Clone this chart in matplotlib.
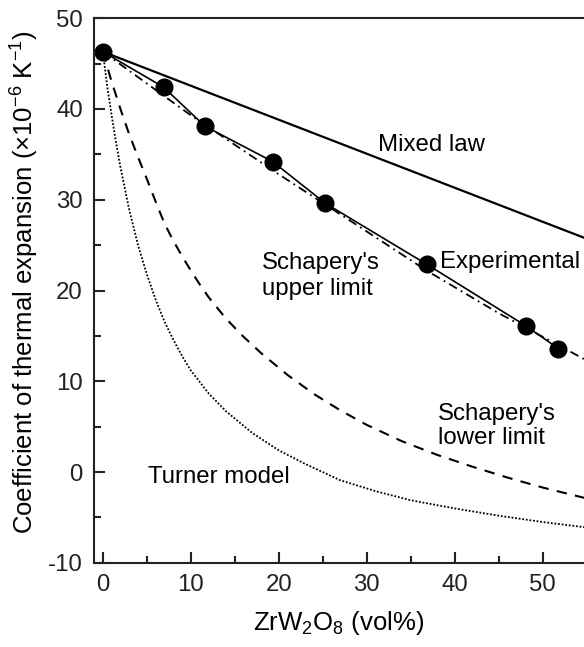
import matplotlib
matplotlib.use('Agg')
from matplotlib import pyplot as plt
from matplotlib.ticker import MultipleLocator

plt.rcParams['font.family'] = ['Liberation Sans', 'DejaVu Sans']
plt.rcParams['mathtext.fontset'] = 'custom'
plt.rcParams['mathtext.rm'] = 'Liberation Sans'
plt.rcParams['mathtext.it'] = 'Liberation Sans:italic'
plt.rcParams['axes.unicode_minus'] = False

# experimental data (vol% ZrW2O8, CTE x1e-6 /K)
exp_x = [0, 6.9, 11.6, 19.3, 25.3, 36.8, 48.1, 51.8]
exp_y = [46.3, 42.4, 38.1, 34.2, 29.6, 22.9, 16.1, 13.6]

# models
mixed_x = [0, 55]
mixed_y = [46.3, 25.7]

upper_x = [0, 10, 20, 30, 36.8, 45, 55]
upper_y = [46.3, 39.3, 32.8, 26.5, 22.2, 17.5, 12.3]

lower_x = [0, 1, 2, 3, 4, 5, 6, 7, 8, 9, 10, 11, 12, 14, 16, 18, 21, 24,
           27, 30, 34, 38, 42, 46, 50, 55]
lower_y = [46.3, 43.0, 40.0, 37.2, 34.7, 32.3, 29.8, 27.4, 25.5, 23.8, 22.2,
           20.7, 19.3, 16.9, 14.9, 13.1, 10.7, 8.6, 6.8, 5.2, 3.4, 1.9, 0.6,
           -0.6, -1.7, -2.9]

turner_x = [0, 0.5, 1, 1.5, 2, 3, 4, 5, 6, 7, 8, 9, 10, 12, 14, 17, 20, 23,
            27, 31, 35, 40, 45, 50, 55]
turner_y = [46.3, 42.5, 39.3, 36.3, 33.6, 28.9, 25.0, 21.8, 19.0, 16.6, 14.6,
            12.8, 11.2, 8.7, 6.7, 4.3, 2.4, 0.9, -0.9, -2.1, -3.1, -4.0, -4.8,
            -5.5, -6.1]

fig = plt.figure(figsize=(5.84, 6.47), dpi=100)
ax = fig.add_axes([0.161, 0.130, 0.839, 0.842])

ax.plot(mixed_x, mixed_y, color='black', lw=1.6)
ax.plot(upper_x, upper_y, color='black', lw=1.3, linestyle=(0, (5, 2.5, 1, 2.5)))
ax.plot(lower_x, lower_y, color='black', lw=1.5, linestyle=(0, (5, 4)))
ax.plot(turner_x, turner_y, color='black', lw=1.3, linestyle=(0, (1, 1)))
ax.plot(exp_x, exp_y, color='black', lw=1.2, marker='o', markersize=12)

fs = 17.3
ax.text(37.4, 36.0, 'Mixed law', fontsize=fs, ha='center', va='center')
ax.text(38.3, 23.1, 'Experimental', fontsize=fs, ha='left', va='center')
ax.text(18.1, 21.6, "Schapery's\nupper limit", fontsize=fs, ha='left', va='center',
        linespacing=1.2)
ax.text(38.1, 5.1, "Schapery's\nlower limit", fontsize=fs, ha='left', va='center',
        linespacing=1.15)
ax.text(5.1, -0.5, 'Turner model', fontsize=fs, ha='left', va='center')

ax.set_xlim(-1, 54.7)
ax.set_ylim(-10, 50)
ax.xaxis.set_major_locator(MultipleLocator(10))
ax.xaxis.set_minor_locator(MultipleLocator(5))
ax.yaxis.set_major_locator(MultipleLocator(10))
ax.yaxis.set_minor_locator(MultipleLocator(5))
ax.tick_params(which='both', direction='in', width=1.5, labelsize=fs, pad=8,
               colors='#222222')
ax.tick_params(which='major', length=8)
ax.tick_params(which='minor', length=5)
ax.spines['right'].set_visible(False)
for s in ['left', 'bottom', 'top']:
    ax.spines[s].set_linewidth(1.5)
    ax.spines[s].set_color('#222222')

ax.set_xlabel(r'ZrW$_2$O$_8$ (vol%)', fontsize=18.5)
ax.set_ylabel(r'Coefficient of thermal expansion ($\times$10$^{-6}$ K$^{-1}$)',
              fontsize=18.5)
ax.xaxis.set_label_coords(0.5, -0.085)
ax.yaxis.set_label_coords(-0.108, 0.515)

fig.savefig('out.png', dpi=100)
